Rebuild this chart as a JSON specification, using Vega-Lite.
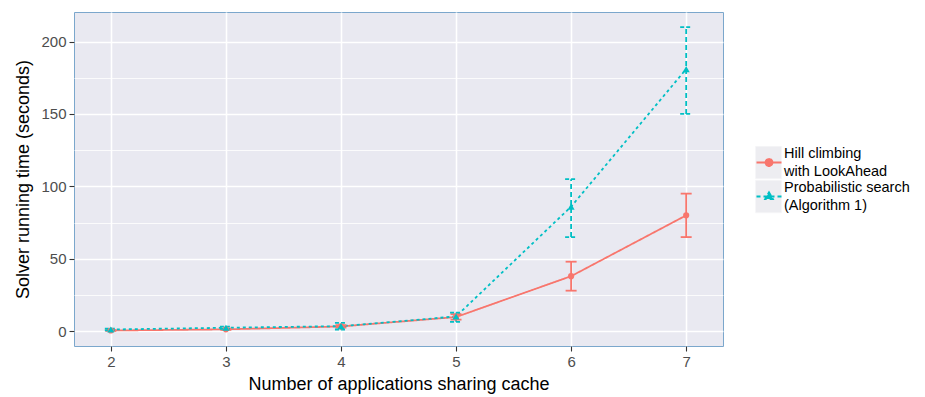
{
  "$schema": "https://vega.github.io/schema/vega-lite/v6.json",
  "autosize": "none",
  "width": 649,
  "height": 334,
  "padding": {"left": 74, "top": 12, "right": 202, "bottom": 51},
  "background": "white",
  "config": {
    "font": "Liberation Sans",
    "view": {"stroke": "#7BA7CC", "strokeWidth": 1, "fill": "#E9E9F1"},
    "axis": {
      "domain": false,
      "gridColor": "white",
      "tickColor": "#333333",
      "tickSize": 5,
      "tickWidth": 1.1,
      "labelColor": "#4D4D4D",
      "labelFontSize": 15,
      "labelFont": "Liberation Sans",
      "labelPadding": 3,
      "titleFont": "Liberation Sans",
      "titleFontSize": 18,
      "titleFontWeight": "normal",
      "titleColor": "black"
    }
  },
  "data": {
    "values": [
      {"n": 2, "series": "Hill climbing with LookAhead", "time": 0.5, "lo": 0.2, "hi": 0.8},
      {"n": 3, "series": "Hill climbing with LookAhead", "time": 1.3, "lo": 0.9, "hi": 1.8},
      {"n": 4, "series": "Hill climbing with LookAhead", "time": 3.3, "lo": 2.5, "hi": 4.2},
      {"n": 5, "series": "Hill climbing with LookAhead", "time": 9.8, "lo": 8.0, "hi": 11.8},
      {"n": 6, "series": "Hill climbing with LookAhead", "time": 38, "lo": 28, "hi": 48},
      {"n": 7, "series": "Hill climbing with LookAhead", "time": 80, "lo": 65, "hi": 95},
      {"n": 2, "series": "Probabilistic search (Algorithm 1)", "time": 1.2, "lo": 0.6, "hi": 1.8},
      {"n": 3, "series": "Probabilistic search (Algorithm 1)", "time": 2.4, "lo": 1.6, "hi": 3.2},
      {"n": 4, "series": "Probabilistic search (Algorithm 1)", "time": 3.5, "lo": 1.2, "hi": 5.8},
      {"n": 5, "series": "Probabilistic search (Algorithm 1)", "time": 10.2, "lo": 6.5, "hi": 12.8},
      {"n": 6, "series": "Probabilistic search (Algorithm 1)", "time": 86, "lo": 65, "hi": 105},
      {"n": 7, "series": "Probabilistic search (Algorithm 1)", "time": 181, "lo": 150, "hi": 210}
    ]
  },
  "encoding": {
    "x": {
      "field": "n", "type": "quantitative",
      "scale": {"domain": [1.68, 7.32], "nice": false, "zero": false},
      "axis": {
        "title": "Number of applications sharing cache",
        "values": [2, 2.5, 3, 3.5, 4, 4.5, 5, 5.5, 6, 6.5, 7],
        "format": "d",
        "labelExpr": "datum.value % 1 == 0 ? datum.label : ''",
        "tickOpacity": {"condition": {"test": "datum.value % 1 == 0", "value": 1}, "value": 0},
        "gridWidth": {"condition": {"test": "datum.value % 1 == 0", "value": 1.6}, "value": 0.8},
        "titlePadding": 6
      }
    },
    "y": {
      "field": "time", "type": "quantitative",
      "scale": {"domain": [-10.2, 220.4], "nice": false, "zero": false},
      "axis": {
        "title": "Solver running time (seconds)",
        "values": [0, 25, 50, 75, 100, 125, 150, 175, 200],
        "labelExpr": "datum.value % 50 == 0 ? datum.label : ''",
        "tickOpacity": {"condition": {"test": "datum.value % 50 == 0", "value": 1}, "value": 0},
        "gridWidth": {"condition": {"test": "datum.value % 50 == 0", "value": 1.6}, "value": 0.8},
        "titlePadding": 8
      }
    }
  },
  "layer": [
    {
      "mark": {"type": "line", "strokeWidth": 1.8},
      "encoding": {
        "color": {
          "field": "series", "type": "nominal",
          "scale": {"range": ["#F8766D", "#00BFC4"]},
          "legend": {
            "orient": "none",
            "legendX": 681.5,
            "legendY": 133.5,
            "zindex": 2,
            "title": null,
            "padding": 0,
            "clipHeight": 34,
            "symbolSize": 625,
            "symbolStrokeWidth": 1.8,
            "labelFontSize": 14.5,
            "labelColor": "black",
            "labelBaseline": "middle",
            "labelOffset": 1.5,
            "rowPadding": 0,
            "labelExpr": "datum.label == 'Hill climbing with LookAhead' ? ['Hill climbing', 'with LookAhead'] : ['Probabilistic search', '(Algorithm 1)']",
            "encode": {
              "labels": {"update": {"lineHeight": {"value": 17.5}, "dy": {"value": -8.25}}},
              "symbols": {
                "update": {
                  "shape": {"signal": "datum.value == 'Hill climbing with LookAhead' ? 'M-1,0H1M-0.28,0A0.28,0.28 0 1,1 0.28,0A0.28,0.28 0 1,1 -0.28,0Z' : 'M-1,0H1M0,-0.34L0.31,0.2L-0.31,0.2Z'"},
                  "fill": {"signal": "datum.value == 'Hill climbing with LookAhead' ? '#F8766D' : '#00BFC4'"},
                  "fillOpacity": {"value": 1},
                  "stroke": {"signal": "datum.value == 'Hill climbing with LookAhead' ? '#F8766D' : '#00BFC4'"},
                  "strokeDash": {"signal": "datum.value == 'Hill climbing with LookAhead' ? [1, 0] : [4, 3]"}
                }
              }
            }
          }
        },
        "strokeDash": {
          "field": "series", "type": "nominal",
          "scale": {"range": [[1, 0], [3, 3]]},
          "legend": null
        }
      }
    },
    {
      "transform": [{"filter": "datum.series == 'Hill climbing with LookAhead'"}],
      "mark": {"type": "rule", "strokeWidth": 1.8},
      "encoding": {
        "y": {"field": "lo", "type": "quantitative"},
        "y2": {"field": "hi"},
        "color": {"field": "series", "type": "nominal"}
      }
    },
    {
      "transform": [{"filter": "datum.series != 'Hill climbing with LookAhead'"}],
      "mark": {"type": "rule", "strokeWidth": 1.8, "strokeDash": [5, 3]},
      "encoding": {
        "y": {"field": "lo", "type": "quantitative"},
        "y2": {"field": "hi"},
        "color": {"field": "series", "type": "nominal"}
      }
    },
    {
      "transform": [{"filter": "datum.series == 'Hill climbing with LookAhead'"}],
      "mark": {"type": "rule", "strokeWidth": 1.8, "xOffset": -5.5, "x2Offset": 5.5},
      "encoding": {
        "x2": {"field": "n"},
        "y": {"field": "lo", "type": "quantitative"},
        "color": {"field": "series", "type": "nominal"}
      }
    },
    {
      "transform": [{"filter": "datum.series == 'Hill climbing with LookAhead'"}],
      "mark": {"type": "rule", "strokeWidth": 1.8, "xOffset": -5.5, "x2Offset": 5.5},
      "encoding": {
        "x2": {"field": "n"},
        "y": {"field": "hi", "type": "quantitative"},
        "color": {"field": "series", "type": "nominal"}
      }
    },
    {
      "transform": [{"filter": "datum.series != 'Hill climbing with LookAhead'"}],
      "mark": {"type": "rule", "strokeWidth": 1.8, "strokeDash": [4, 2], "xOffset": -6, "x2Offset": 6},
      "encoding": {
        "x2": {"field": "n"},
        "y": {"field": "lo", "type": "quantitative"},
        "color": {"field": "series", "type": "nominal"}
      }
    },
    {
      "transform": [{"filter": "datum.series != 'Hill climbing with LookAhead'"}],
      "mark": {"type": "rule", "strokeWidth": 1.8, "strokeDash": [4, 2], "xOffset": -6, "x2Offset": 6},
      "encoding": {
        "x2": {"field": "n"},
        "y": {"field": "hi", "type": "quantitative"},
        "color": {"field": "series", "type": "nominal"}
      }
    },
    {
      "mark": {"type": "point", "filled": true},
      "encoding": {
        "color": {"field": "series", "type": "nominal"},
        "shape": {
          "field": "series", "type": "nominal",
          "scale": {"range": ["circle", "triangle-up"]},
          "legend": null
        },
        "size": {
          "field": "series", "type": "nominal",
          "scale": {"range": [38, 50]},
          "legend": null
        },
        "opacity": {
          "field": "series", "type": "nominal",
          "scale": {"domain": ["Hill climbing with LookAhead", "Probabilistic search (Algorithm 1)"], "range": [1, 1]},
          "legend": {
            "orient": "none",
            "legendX": 681.5,
            "legendY": 133.5,
            "zindex": 1,
            "title": null,
            "padding": 0,
            "clipHeight": 34,
            "symbolType": "M-1.17,-1.33H1.17V1.33H-1.17Z",
            "symbolSize": 625,
            "symbolFillColor": "#EDEDF1",
            "symbolStrokeColor": "white",
            "symbolStrokeWidth": 1,
            "labelExpr": "''",
            "labelFontSize": 1,
            "labelOffset": 0,
            "rowPadding": 0
          }
        }
      }
    }
  ]
}
